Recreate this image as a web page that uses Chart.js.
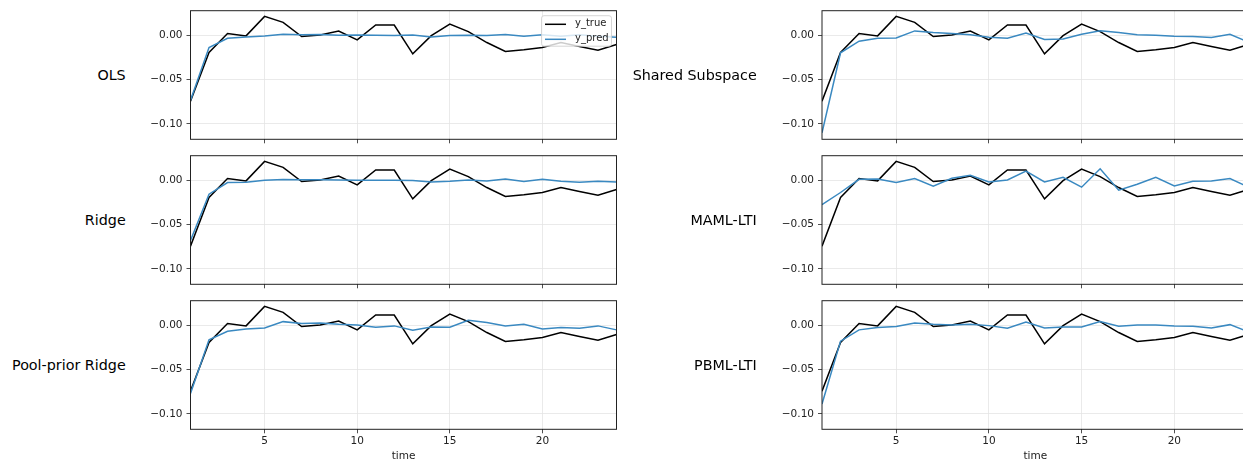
<!DOCTYPE html>
<html lang="en">
<head>
  <meta charset="UTF-8">
  <title>y_true vs y_pred</title>
  <script src="https://cdn.jsdelivr.net/npm/chart.js"></script>
  <style>
    html, body { margin: 0; padding: 0; background: #fff; overflow: hidden; }
    #fig { position: relative; width: 1260px; height: 470px; font-family: "DejaVu Sans", sans-serif; }
    #fig canvas { position: absolute; }
    .rowlabel {
      position: absolute; width: 200px; text-align: right;
      font-size: 14.3px; line-height: 16px; color: #000; white-space: nowrap;
      transform: translateY(-50%);
    }
  </style>
</head>
<body>
  <div id="fig"></div>

  <script>
    // time steps and axis ticks
    const time = [1, 2, 3, 4, 5, 6, 7, 8, 9, 10, 11, 12, 13, 14, 15, 16, 17, 18, 19, 20, 21, 22, 23, 24];
    const xTicks = [5, 10, 15, 20];
    const yTicks = [-0.10, -0.05, 0.00];

    const yTrue = [-0.0743, -0.0194, 0.0019, -0.0007, 0.0213, 0.0145, -0.0015, 0.0004, 0.0048, -0.0052, 0.0116, 0.0116,
                   -0.0209, -0.0005, 0.0127, 0.0041, -0.0082, -0.0183, -0.0164, -0.0138, -0.0082, -0.0127, -0.0168, -0.0104];

    const predOLS = [-0.0735, -0.0138, -0.0034, -0.0019, -0.0007, 0.0011, 0.0007, 0.0010, 0.0000, 0.0004, 0.0000, -0.0004,
                     0.0004, -0.0019, -0.0004, 0.0000, -0.0004, 0.0010, -0.0010, 0.0007, -0.0010, 0.0005, -0.0010, -0.0022];
    const predRidge = [-0.0680, -0.0157, -0.0026, -0.0022, 0.0000, 0.0010, 0.0007, 0.0007, 0.0004, 0.0000, 0.0000, 0.0000,
                       -0.0004, -0.0019, -0.0011, 0.0004, -0.0007, 0.0015, -0.0015, 0.0011, -0.0011, -0.0022, -0.0011, -0.0019];
    const predPool = [-0.0768, -0.0164, -0.0067, -0.0041, -0.0030, 0.0041, 0.0019, 0.0026, 0.0011, 0.0004, -0.0022, -0.0007,
                      -0.0056, -0.0019, -0.0022, 0.0056, 0.0030, -0.0007, 0.0011, -0.0041, -0.0026, -0.0034, -0.0007, -0.0052];
    const predShared = [-0.1100, -0.0198, -0.0067, -0.0034, -0.0030, 0.0049, 0.0030, 0.0019, 0.0007, -0.0022, -0.0034, 0.0026,
                        -0.0048, -0.0041, 0.0011, 0.0052, 0.0030, 0.0007, 0.0000, -0.0011, -0.0015, -0.0026, 0.0011, -0.0078];
    const predMAML = [-0.0276, -0.0138, 0.0011, 0.0015, -0.0026, 0.0019, -0.0067, 0.0022, 0.0056, -0.0019, 0.0004, 0.0104,
                      -0.0019, 0.0034, -0.0078, 0.0130, -0.0112, -0.0045, 0.0034, -0.0063, -0.0011, -0.0007, 0.0019, -0.0078];
    const predPBML = [-0.0888, -0.0179, -0.0052, -0.0026, -0.0015, 0.0026, 0.0011, 0.0004, 0.0011, -0.0004, -0.0034, 0.0037,
                      -0.0030, -0.0019, -0.0019, 0.0041, -0.0011, 0.0004, 0.0004, -0.0007, -0.0011, -0.0030, 0.0007, -0.0075];

    const panels = [
      { label: "OLS", pred: predOLS, col: 0, row: 0, legend: true },
      { label: "Ridge", pred: predRidge, col: 0, row: 1 },
      { label: "Pool-prior Ridge", pred: predPool, col: 0, row: 2 },
      { label: "Shared Subspace", pred: predShared, col: 1, row: 0 },
      { label: "MAML-LTI", pred: predMAML, col: 1, row: 1 },
      { label: "PBML-LTI", pred: predPBML, col: 1, row: 2 }
    ];

    const FONT = "DejaVu Sans";
    const TRUE_COLOR = "#000000";
    const PRED_COLOR = "#3a89c1";
    const GRID_COLOR = "#e4e4e4";
    const INK = "#222222";
    const Y_MIN = -0.1173, Y_MAX = 0.0277;

    // layout of the two columns (canvas left, canvas width, y-axis width, label right edge)
    const COLS = [
      { left: 130, width: 487, yAxis: 60.5, labelRight: 125.7 },
      { left: 761, width: 488, yAxis: 61, labelRight: 756.7 }
    ];
    const ROW_STEP = 145, AREA_TOP = 10.7, AREA_BOTTOM = 139.3;

    // axes box drawn on top of the lines
    const framePlugin = {
      id: "frame",
      afterDatasetsDraw(chart) {
        const { ctx, chartArea: a } = chart;
        ctx.save();
        ctx.strokeStyle = INK;
        ctx.lineWidth = 1;
        ctx.strokeRect(a.left, a.top, a.right - a.left, a.bottom - a.top);
        ctx.restore();
      }
    };

    // small in-axes legend in the upper right corner
    const cornerLegend = {
      id: "cornerLegend",
      afterDraw(chart, args, opts) {
        if (!opts.show) return;
        const { ctx, chartArea: a } = chart;
        const items = [chart.data.datasets[0], chart.data.datasets[1]];
        const w = 70, h = 30.5;
        const x = a.right - 5 - w, y = a.top + 5;
        ctx.save();
        ctx.beginPath();
        ctx.roundRect(x, y, w, h, 2.5);
        ctx.fillStyle = "rgba(255,255,255,0.8)";
        ctx.fill();
        ctx.strokeStyle = "rgba(204,204,204,0.8)";
        ctx.lineWidth = 1;
        ctx.stroke();
        ctx.font = "10px '" + FONT + "'";
        ctx.textBaseline = "middle";
        items.forEach((ds, i) => {
          const cy = y + 8.6 + i * 15;
          ctx.strokeStyle = ds.borderColor;
          ctx.lineWidth = 1.5;
          ctx.beginPath();
          ctx.moveTo(x + 3.5, cy);
          ctx.lineTo(x + 24.5, cy);
          ctx.stroke();
          ctx.fillStyle = INK;
          ctx.fillText(ds.label, x + 33.5, cy - 0.6);
        });
        ctx.restore();
      }
    };

    const fig = document.getElementById("fig");

    panels.forEach(p => {
      const c = COLS[p.col];
      const bottomRow = p.row === 2;
      const top = p.row * ROW_STEP;
      const height = bottomRow ? 175 : ROW_STEP;

      const canvas = document.createElement("canvas");
      canvas.width = c.width;
      canvas.height = height;
      canvas.style.left = c.left + "px";
      canvas.style.top = top + "px";
      fig.appendChild(canvas);

      const lab = document.createElement("div");
      lab.className = "rowlabel";
      lab.textContent = p.label;
      lab.style.left = (c.labelRight - 200) + "px";
      lab.style.top = (top + (AREA_TOP + AREA_BOTTOM) / 2) + "px";
      fig.appendChild(lab);

      new Chart(canvas, {
        type: "line",
        data: {
          labels: time,
          datasets: [
            { label: "y_true", data: yTrue, borderColor: TRUE_COLOR, borderWidth: 1.5, pointRadius: 0, order: 1 },
            { label: "y_pred", data: p.pred, borderColor: PRED_COLOR, borderWidth: 1.5, pointRadius: 0, order: 0 }
          ]
        },
        options: {
          responsive: false,
          animation: false,
          events: [],
          layout: { padding: { top: AREA_TOP, right: 0.5, bottom: 0, left: 0 } },
          plugins: {
            legend: { display: false },
            tooltip: { enabled: false },
            cornerLegend: { show: !!p.legend }
          },
          scales: {
            x: {
              type: "linear",
              min: 1,
              max: 24,
              afterBuildTicks: s => { s.ticks = xTicks.map(v => ({ value: v })); },
              afterFit: s => { s.height = height - AREA_BOTTOM; s.paddingLeft = 0; s.paddingRight = 0; },
              border: { display: false },
              grid: { color: GRID_COLOR, lineWidth: 0.8, tickColor: INK, tickLength: 4, tickWidth: 0.8 },
              ticks: {
                display: bottomRow,
                color: INK,
                padding: 2,
                maxRotation: 0,
                autoSkip: false,
                font: { family: FONT, size: 10.5 },
                callback: v => String(v)
              },
              title: {
                display: bottomRow,
                text: "time",
                color: INK,
                font: { family: FONT, size: 10.5 },
                padding: { top: 0, bottom: 2 }
              }
            },
            y: {
              min: Y_MIN,
              max: Y_MAX,
              afterBuildTicks: s => { s.ticks = yTicks.map(v => ({ value: v })); },
              afterFit: s => { s.width = c.yAxis; s.paddingTop = 0; s.paddingBottom = 0; },
              border: { display: false },
              grid: { color: GRID_COLOR, lineWidth: 0.8, tickColor: INK, tickLength: 4, tickWidth: 0.8 },
              ticks: {
                color: INK,
                padding: 4,
                font: { family: FONT, size: 10.5 },
                callback: v => v.toFixed(2).replace("-", "\u2212")
              }
            }
          }
        },
        plugins: [framePlugin, cornerLegend]
      });
    });
  </script>
</body>
</html>
